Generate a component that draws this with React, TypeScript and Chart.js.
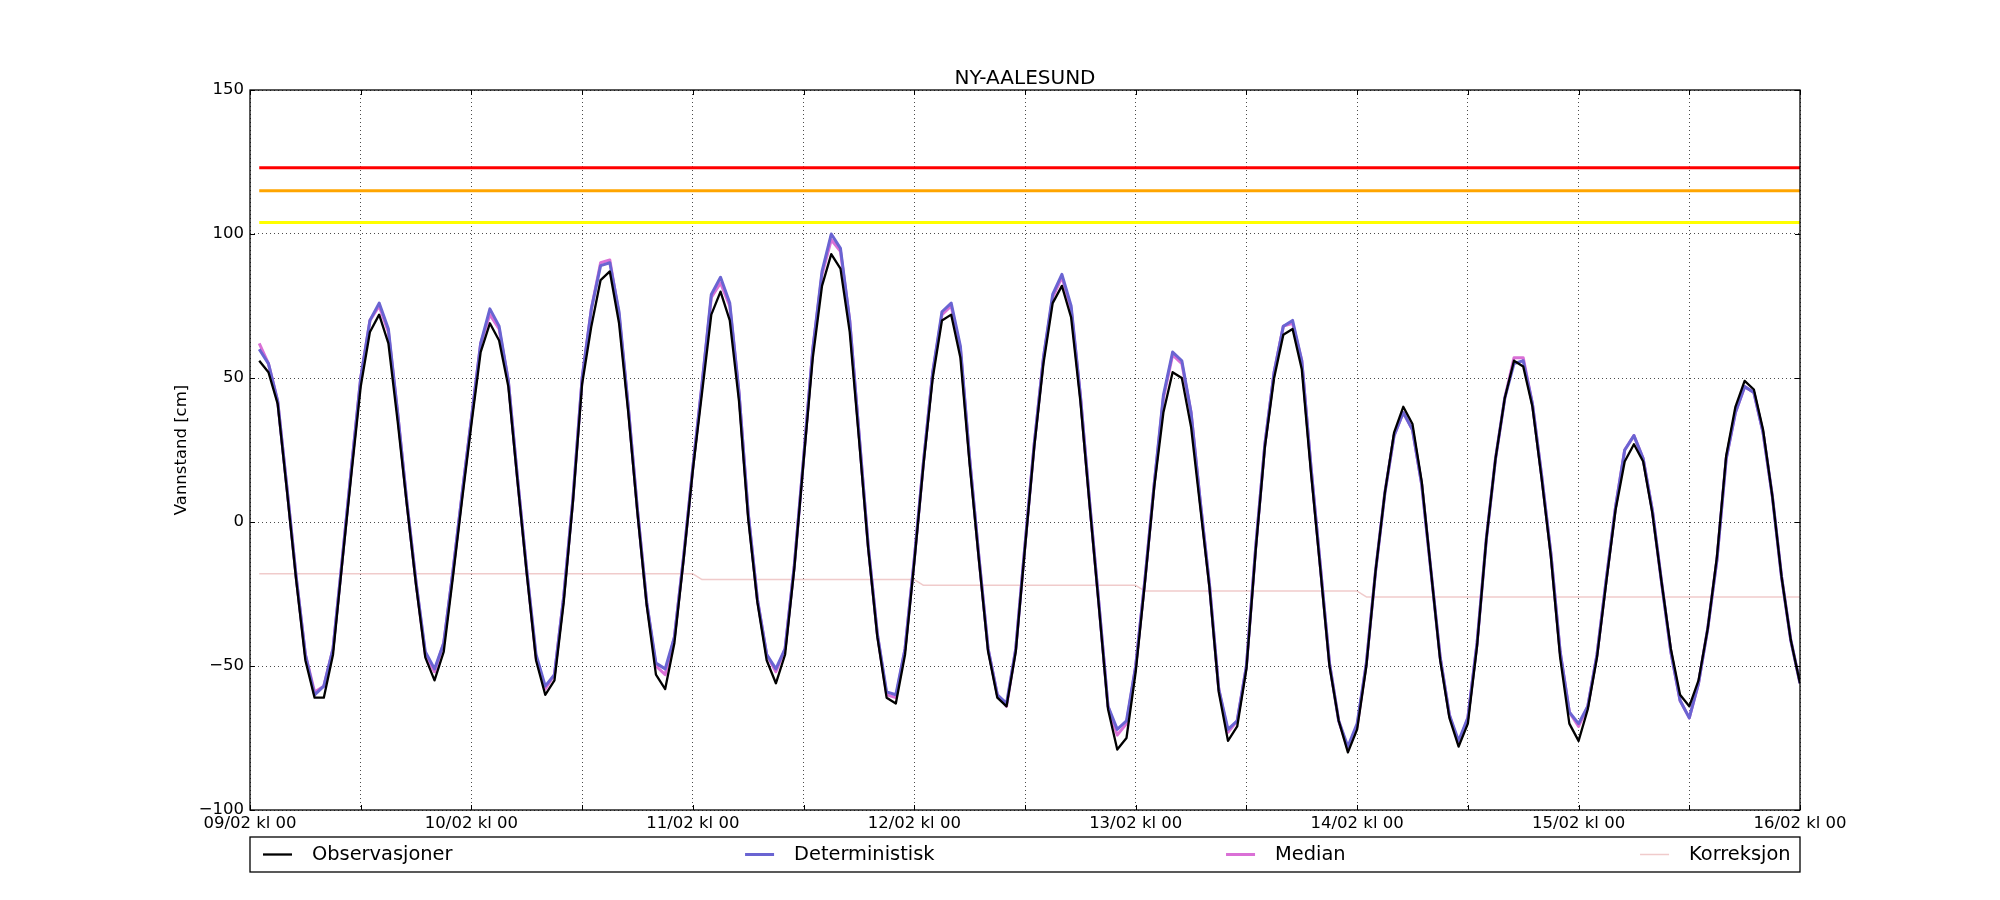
import React, { useEffect, useRef } from "react";
import { Chart, registerables } from "chart.js";

Chart.register(...registerables);

const chartTitle = "NY-AALESUND";
const yAxisLabel = "Vannstand [cm]";
const xTickLabels = [
  "09/02 kl 00",
  "10/02 kl 00",
  "11/02 kl 00",
  "12/02 kl 00",
  "13/02 kl 00",
  "14/02 kl 00",
  "15/02 kl 00",
  "16/02 kl 00",
];
const firstHour = 1; // hours after 09/02 kl 00

const observasjoner = [
  56, 52, 41, 11, -20, -48, -61, -61, -46, -14, 17, 47, 66, 72, 62, 35, 6, -22, -47, -55, -45, -19, 8, 34,
  59, 69, 63, 47, 14, -18, -48, -60, -55, -28, 7, 48, 68, 84, 87, 69, 38, 3, -29, -53, -58, -42, -13, 18,
  45, 72, 80, 70, 42, 1, -28, -48, -56, -46, -16, 21, 57, 82, 93, 88, 66, 29, -9, -40, -61, -63, -46, -14,
  20, 50, 70, 72, 57, 20, -13, -45, -61, -64, -45, -9, 26, 55, 76, 82, 71, 42, 6, -29, -65, -79, -75, -52,
  -21, 12, 38, 52, 50, 33, 5, -23, -59, -76, -71, -51, -10, 26, 50, 65, 67, 53, 17, -16, -50, -69, -80, -72,
  -50, -17, 10, 31, 40, 34, 14, -17, -48, -68, -78, -70, -43, -6, 22, 43, 56, 54, 40, 15, -12, -47, -70, -76,
  -65, -47, -21, 4, 21, 27, 21, 3, -21, -44, -60, -64, -55, -37, -12, 23, 40, 49, 46, 32, 9, -19, -41, -56,
];

const deterministisk = [
  60, 55, 42, 12, -19, -46, -60, -57, -44, -13, 19, 50, 70, 76, 67, 38, 7, -21, -45, -51, -42, -17, 10, 36,
  62, 74, 68, 49, 15, -17, -46, -57, -53, -26, 8, 50, 74, 89, 90, 73, 40, 4, -28, -49, -51, -40, -12, 19,
  48, 79, 85, 76, 45, 3, -27, -46, -51, -44, -15, 22, 60, 87, 100, 95, 70, 31, -8, -39, -59, -60, -44, -13,
  21, 52, 73, 76, 61, 22, -12, -44, -60, -63, -44, -8, 27, 57, 79, 86, 75, 44, 7, -28, -64, -72, -69, -50,
  -20, 13, 44, 59, 56, 38, 7, -22, -58, -72, -69, -50, -9, 27, 52, 68, 70, 56, 19, -15, -49, -69, -78, -70,
  -49, -17, 10, 30, 38, 32, 13, -17, -47, -67, -76, -68, -42, -6, 22, 43, 55, 56, 41, 16, -11, -45, -66, -70,
  -64, -46, -20, 5, 25, 30, 22, 4, -21, -45, -62, -68, -56, -37, -13, 22, 38, 47, 45, 31, 9, -19, -41, -56,
];

const median = [
  62, 55, 42, 12, -19, -46, -59, -57, -44, -13, 19, 50, 70, 75, 66, 38, 7, -21, -46, -52, -42, -17, 10, 36,
  62, 72, 67, 49, 15, -17, -47, -58, -53, -26, 8, 50, 74, 90, 91, 72, 40, 4, -28, -50, -53, -40, -12, 19,
  48, 78, 83, 75, 45, 3, -27, -46, -52, -44, -15, 22, 60, 86, 98, 94, 70, 31, -8, -39, -60, -61, -44, -13,
  21, 52, 72, 75, 60, 22, -12, -44, -60, -64, -44, -8, 27, 57, 78, 85, 74, 44, 7, -28, -64, -74, -70, -50,
  -20, 13, 43, 58, 55, 38, 7, -22, -58, -73, -69, -50, -9, 27, 52, 68, 69, 56, 19, -15, -49, -69, -79, -71,
  -49, -17, 10, 30, 38, 32, 13, -17, -47, -67, -77, -68, -42, -6, 22, 43, 57, 57, 41, 16, -11, -45, -66, -71,
  -64, -46, -20, 5, 25, 30, 22, 4, -21, -45, -62, -68, -56, -37, -13, 22, 38, 47, 45, 31, 9, -19, -41, -56,
];

const korreksjon = [
  -18, -18, -18, -18, -18, -18, -18, -18, -18, -18, -18, -18, -18, -18, -18, -18, -18, -18, -18, -18, -18, -18, -18, -18,
  -18, -18, -18, -18, -18, -18, -18, -18, -18, -18, -18, -18, -18, -18, -18, -18, -18, -18, -18, -18, -18, -18, -18, -18,
  -20, -20, -20, -20, -20, -20, -20, -20, -20, -20, -20, -20, -20, -20, -20, -20, -20, -20, -20, -20, -20, -20, -20, -20,
  -22, -22, -22, -22, -22, -22, -22, -22, -22, -22, -22, -22, -22, -22, -22, -22, -22, -22, -22, -22, -22, -22, -22, -22,
  -24, -24, -24, -24, -24, -24, -24, -24, -24, -24, -24, -24, -24, -24, -24, -24, -24, -24, -24, -24, -24, -24, -24, -24,
  -26, -26, -26, -26, -26, -26, -26, -26, -26, -26, -26, -26, -26, -26, -26, -26, -26, -26, -26, -26, -26, -26, -26, -26,
  -26, -26, -26, -26, -26, -26, -26, -26, -26, -26, -26, -26, -26, -26, -26, -26, -26, -26, -26, -26, -26, -26, -26, -26,
];

const thresholdLevels = [123, 115, 104];
const thresholdColors = ["#ff0000", "#ffa500", "#ffff00"];

const seriesNames = ["Observasjoner", "Deterministisk", "Median", "Korreksjon"];
const seriesColors = ["#000000", "#6a64d2", "#da70d6", "rgba(222,140,140,0.45)"];
const seriesWidths = [2.3, 3, 3, 1.5];

const FONT = "'DejaVu Sans', 'Liberation Sans', sans-serif";

const toXY = (arr: number[]) => arr.map((y, i) => ({ x: firstHour + i, y }));

const decorPlugin = {
  id: "decor",
  afterDraw(chart: any) {
    const { ctx, chartArea: a, scales } = chart;
    ctx.save();
    // frame
    ctx.strokeStyle = "#000";
    ctx.lineWidth = 1.3;
    ctx.setLineDash([]);
    ctx.strokeRect(a.left, a.top, a.right - a.left, a.bottom - a.top);
    // inward tick marks
    const tl = 5;
    ctx.lineWidth = 1;
    ctx.beginPath();
    scales.x.ticks.forEach((t: any) => {
      const px = Math.round(scales.x.getPixelForValue(t.value)) + 0.5;
      ctx.moveTo(px, a.bottom);
      ctx.lineTo(px, a.bottom - tl);
      ctx.moveTo(px, a.top);
      ctx.lineTo(px, a.top + tl);
    });
    scales.y.ticks.forEach((t: any) => {
      const py = Math.round(scales.y.getPixelForValue(t.value)) + 0.5;
      ctx.moveTo(a.left, py);
      ctx.lineTo(a.left + tl, py);
      ctx.moveTo(a.right, py);
      ctx.lineTo(a.right - tl, py);
    });
    ctx.stroke();

    // title
    ctx.fillStyle = "#000";
    ctx.font = `20px ${FONT}`;
    ctx.textAlign = "center";
    ctx.textBaseline = "alphabetic";
    ctx.fillText(chartTitle, (a.left + a.right) / 2, a.top - 6);

    // y axis label
    ctx.save();
    ctx.translate(a.left - 68, (a.top + a.bottom) / 2);
    ctx.rotate(-Math.PI / 2);
    ctx.font = `16.5px ${FONT}`;
    ctx.textAlign = "center";
    ctx.textBaseline = "middle";
    ctx.fillText(yAxisLabel, 0, 0);
    ctx.restore();

    // legend box
    const boxTop = a.bottom + 27;
    const boxBottom = a.bottom + 62;
    ctx.strokeStyle = "#000";
    ctx.lineWidth = 1.3;
    ctx.strokeRect(a.left, boxTop, a.right - a.left, boxBottom - boxTop);
    const w = a.right - a.left;
    const starts = [0.0084, 0.3194, 0.6297, 0.8968];
    const cy = (boxTop + boxBottom) / 2;
    ctx.font = `19.4px ${FONT}`;
    ctx.textAlign = "left";
    ctx.textBaseline = "middle";
    seriesNames.forEach((name, i) => {
      const x0 = a.left + starts[i] * w;
      ctx.strokeStyle = seriesColors[i];
      ctx.lineWidth = seriesWidths[i];
      ctx.beginPath();
      ctx.moveTo(x0, cy);
      ctx.lineTo(x0 + 29, cy);
      ctx.stroke();
      ctx.fillStyle = "#000";
      ctx.fillText(name, x0 + 49, cy);
    });
    ctx.restore();
  },
};

export default function App() {
  const canvasRef = useRef<HTMLCanvasElement | null>(null);

  useEffect(() => {
    if (!canvasRef.current) return;
    Chart.defaults.font.family = FONT;
    Chart.defaults.color = "#000";

    const lastHour = firstHour + observasjoner.length - 1;
    const mainSeries = [observasjoner, deterministisk, median, korreksjon];

    const datasets: any[] = mainSeries.map((arr, i) => ({
      label: seriesNames[i],
      data: toXY(arr),
      borderColor: seriesColors[i],
      backgroundColor: seriesColors[i],
      borderWidth: seriesWidths[i],
      pointRadius: 0,
      fill: false,
      tension: 0,
    }));
    thresholdLevels.forEach((lvl, i) => {
      datasets.push({
        label: "terskel" + i,
        data: [
          { x: firstHour, y: lvl },
          { x: lastHour, y: lvl },
        ],
        borderColor: thresholdColors[i],
        borderWidth: 3,
        pointRadius: 0,
        fill: false,
      });
    });

    const chart = new Chart(canvasRef.current, {
      type: "line",
      data: { datasets },
      options: {
        animation: false,
        responsive: true,
        maintainAspectRatio: false,
        devicePixelRatio: 1,
        layout: { padding: { left: 0, top: 90, right: 200, bottom: 0 } },
        plugins: {
          legend: { display: false },
          tooltip: { enabled: false },
          title: { display: false },
        },
        elements: {
          line: { borderJoinStyle: "round", borderCapStyle: "butt" },
        },
        scales: {
          x: {
            type: "linear",
            min: 0,
            max: 168,
            afterFit: (s: any) => {
              s.height = 90;
            },
            ticks: {
              stepSize: 12,
              autoSkip: false,
              maxRotation: 0,
              minRotation: 0,
              padding: 4,
              color: "#000",
              font: { size: 16.5, family: FONT },
              callback: (v: any) => {
                const n = Math.round(Number(v));
                return n % 24 === 0 ? xTickLabels[n / 24] : "";
              },
            },
            grid: { color: "rgba(0,0,0,0.7)", lineWidth: 1, drawTicks: false },
            border: { display: false, dash: [1, 3] },
          },
          y: {
            min: -100,
            max: 150,
            afterFit: (s: any) => {
              s.width = 250;
            },
            ticks: {
              stepSize: 50,
              padding: 6,
              color: "#000",
              font: { size: 16.5, family: FONT },
              callback: (v: any) => String(v).replace("-", "\u2212"),
            },
            grid: { color: "rgba(0,0,0,0.7)", lineWidth: 1, drawTicks: false },
            border: { display: false, dash: [1, 3] },
          },
        },
      } as any,
      plugins: [decorPlugin],
    });
    return () => chart.destroy();
  }, []);

  return (
    <div
      style={{
        position: "fixed",
        left: 0,
        top: 0,
        width: "2000px",
        height: "900px",
        background: "#fff",
      }}
    >
      <canvas ref={canvasRef} />
    </div>
  );
}
